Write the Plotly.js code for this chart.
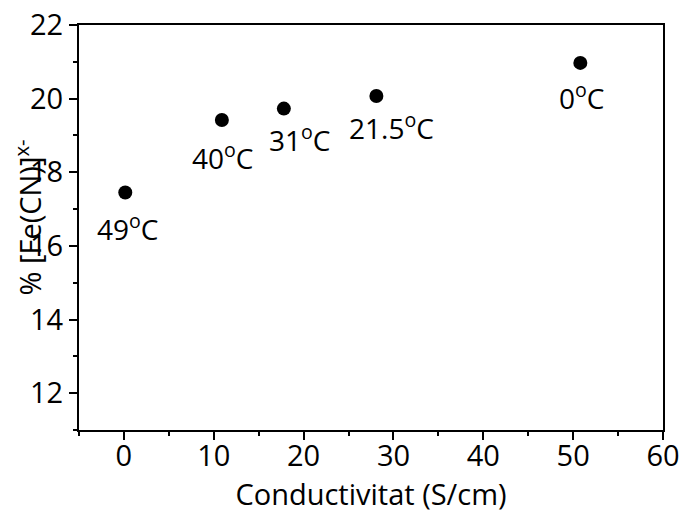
<!DOCTYPE html>
<html>
<head>
<meta charset="utf-8">
<script src="https://cdn.plot.ly/plotly-3.0.1.min.js"></script>
<style>html,body{margin:0;padding:0;background:#fff;}#chart{width:685px;height:514px;}</style>
</head>
<body>
<div id="chart"></div>
<script>
// Data
var conductivity = [0.15, 10.9, 17.8, 28.1, 50.8];      // S/cm
var ferricyanide = [17.45, 19.42, 19.73, 20.07, 20.97]; // %
var temperatureLabels = ['49<sup>o</sup>C', '40<sup>o</sup>C', '31<sup>o</sup>C', '21.5<sup>o</sup>C', '0<sup>o</sup>C'];

// label offsets in px (style only)
var labelShiftX = [2, 1, 16, 15, 1];
var labelShiftY = [-35, -37, -30, -30, -34];

var FONT = 'Open Sans, Noto Sans, sans-serif';
var FS = 29;
var LFS = 28;

var trace = {
  x: conductivity,
  y: ferricyanide,
  mode: 'markers',
  type: 'scatter',
  marker: {color: '#000', size: 14},
  hoverinfo: 'x+y',
  showlegend: false
};

var annotations = conductivity.map(function (xv, i) {
  return {
    x: xv, y: ferricyanide[i], xref: 'x', yref: 'y',
    text: temperatureLabels[i], showarrow: false,
    xanchor: 'center', yanchor: 'middle',
    xshift: labelShiftX[i], yshift: labelShiftY[i],
    font: {family: FONT, size: LFS, color: '#000'}
  };
});
annotations.push({
  xref: 'paper', yref: 'paper', x: -0.087, y: 0.525,
  xanchor: 'center', yanchor: 'middle',
  text: '% [Fe(CN)]<sup>x-</sup>', textangle: -90, showarrow: false,
  font: {family: FONT, size: FS, color: '#000'}
});

var layout = {
  width: 685, height: 514,
  margin: {l: 79, r: 22, t: 25, b: 84},
  paper_bgcolor: '#fff', plot_bgcolor: '#fff',
  font: {family: FONT, size: FS, color: '#000'},
  xaxis: {
    range: [-5, 60], tick0: 0, dtick: 10,
    showgrid: false, zeroline: false,
    showline: true, linecolor: '#000', linewidth: 2, mirror: true,
    ticks: 'outside', ticklen: 8, tickwidth: 2, tickcolor: '#000',
    ticklabelstandoff: -9,
    minor: {tick0: -5, dtick: 10, ticks: 'outside', ticklen: 4, tickwidth: 2, tickcolor: '#000', showgrid: false},
    tickfont: {family: FONT, size: FS, color: '#000'},
    title: {text: 'Conductivitat (S/cm)', font: {family: FONT, size: FS, color: '#000'}, standoff: 12}
  },
  yaxis: {
    range: [11, 22], tick0: 12, dtick: 2,
    showgrid: false, zeroline: false,
    showline: true, linecolor: '#000', linewidth: 2, mirror: true,
    ticks: 'outside', ticklen: 8, tickwidth: 2, tickcolor: '#000',
    minor: {tick0: 11, dtick: 2, ticks: 'outside', ticklen: 4, tickwidth: 2, tickcolor: '#000', showgrid: false},
    tickfont: {family: FONT, size: FS, color: '#000'}
  },
  annotations: annotations
};

Plotly.newPlot('chart', [trace], layout, {displayModeBar: false, staticPlot: true});
</script>
</body>
</html>
